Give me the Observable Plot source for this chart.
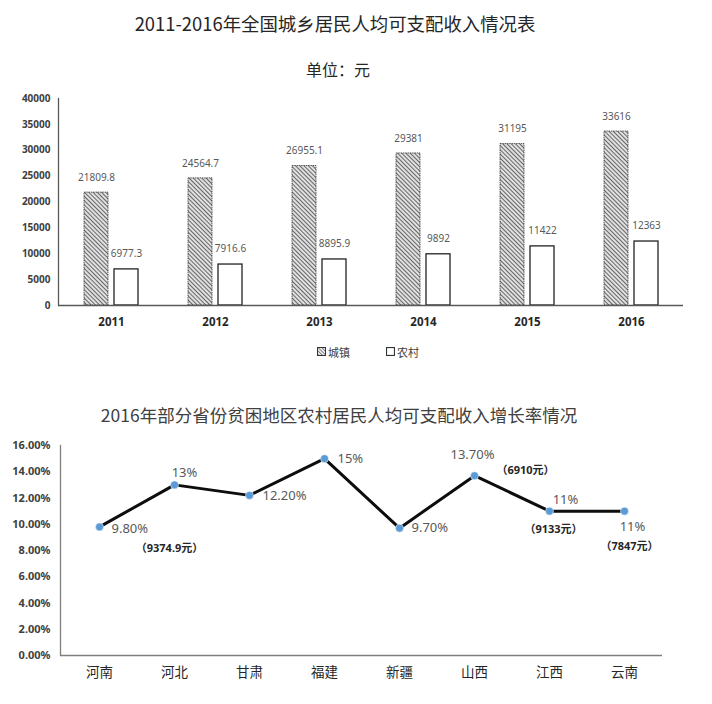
<!DOCTYPE html>
<html><head><meta charset="utf-8">
<script src="https://cdn.jsdelivr.net/npm/d3@7"></script>
<script src="https://cdn.jsdelivr.net/npm/@observablehq/plot@0.6"></script>
<style>
body{margin:0;background:#fff;font-family:"Noto Sans CJK SC","Noto Sans",sans-serif;}
#wrap{position:relative;width:712px;height:704px;overflow:hidden;}
.abs{position:absolute;left:0;width:712px;}
.title{text-align:center;font-size:18px;color:#262626;}
.legend{text-align:center;font-size:11px;color:#404040;}
.legend span{display:inline-flex;align-items:center;margin:0 18px;}
.legend svg{margin-right:2px;}
</style></head>
<body><div id="wrap">
<div class="abs title" style="top:10px;left:-21px;font-size:18.4px;">2011-2016年全国城乡居民人均可支配收入情况表</div>
<div class="abs title" style="top:57px;left:-18px;font-size:16px;">单位：元</div>
<div class="abs" id="c1" style="top:85px;"></div>
<div class="abs legend" id="lg" style="top:343px;left:12px;"></div>
<div class="abs title" style="top:402px;left:-17px;font-size:17.5px;color:#404040;">2016年部分省份贫困地区农村居民人均可支配收入增长率情况</div>
<div class="abs" id="c2" style="top:430px;"></div>
</div>
<script>
// ---- Chart 1 data ----
const years = ["2011","2012","2013","2014","2015","2016"];
const urban = [21809.8, 24564.7, 26955.1, 29381, 31195, 33616];
const rural = [6977.3, 7916.6, 8895.9, 9892, 11422, 12363];
const urbanLabels = ["21809.8","24564.7","26955.1","29381","31195","33616"];
const ruralLabels = ["6977.3","7916.6","8895.9","9892","11422","12363"];
const seriesNames = ["城镇","农村"];
const yTicks1 = [0,5000,10000,15000,20000,25000,30000,35000,40000];

// ---- Chart 2 data ----
const provinces = ["河南","河北","甘肃","福建","新疆","山西","江西","云南"];
const growth = [9.8, 13, 12.2, 15, 9.7, 13.7, 11, 11];
const growthLabels = ["9.80%","13%","12.20%","15%","9.70%","13.70%","11%","11%"];
const incomeNotes = ["（9374.9元）", null, null, null, null, "（6910元）", "（9133元）", "（7847元）"];
const yTicks2 = [0,2,4,6,8,10,12,14,16];

const rows1 = [];
years.forEach((y,i)=>{
  rows1.push({year:y, series:seriesNames[0], value:urban[i], label:urbanLabels[i]});
  rows1.push({year:y, series:seriesNames[1], value:rural[i], label:ruralLabels[i]});
});
const urbanRows = rows1.filter(d=>d.series==="城镇");
const ruralRows = rows1.filter(d=>d.series==="农村");

const chart1 = Plot.plot({
  width:712, height:250,
  marginLeft:58, marginRight:29, marginTop:13, marginBottom:30,
  style:{fontFamily:"'Noto Sans','Noto Sans CJK SC',sans-serif", background:"#fff"},
  x:{type:"band", domain:years, paddingInner:0.77, paddingOuter:0.385, label:null},
  y:{domain:[0,40000], label:null},
  marks:[
    Plot.barY(urbanRows,{x:"year", y:"value", dx:-15, fill:"url(#hatch)", stroke:"#333", strokeWidth:0.8, strokeDasharray:"1.5,0.8"}),
    Plot.barY(ruralRows,{x:"year", y:"value", dx:15, fill:"#fff", stroke:"#222", strokeWidth:1.3}),
    Plot.text(urbanRows,{x:"year", y:"value", text:"label", dx:-15, dy:-15, fill:"#595959", fontSize:10}),
    Plot.text(ruralRows,{x:"year", y:"value", text:"label", dx:15, dy:-16, fill:"#595959", fontSize:10}),
    Plot.frame({anchor:"left", stroke:"#595959", strokeWidth:1.3}),
    Plot.ruleY([0],{stroke:"#595959", strokeWidth:1.3}),
    Plot.axisY({ticks:yTicks1, tickSize:0, tickPadding:8, fontSize:10, fontWeight:"bold", fill:"#404040", tickFormat:d=>String(d)}),
    Plot.axisX({tickSize:0, tickPadding:12, fontSize:11.5, fontWeight:"bold", fill:"#262626"})
  ]
});
// hatch pattern
const ns="http://www.w3.org/2000/svg";
const defs=document.createElementNS(ns,"defs");
defs.innerHTML='<pattern id="hatch" patternUnits="userSpaceOnUse" width="3" height="3" patternTransform="rotate(-45)"><rect width="3" height="3" fill="#e0e0e0"/><line x1="0" y1="0" x2="0" y2="3" stroke="#333" stroke-width="1.4"/></pattern>';
chart1.insertBefore(defs, chart1.firstChild);
document.getElementById("c1").appendChild(chart1);

// legend
document.getElementById("lg").innerHTML =
 '<span><svg width="9" height="9"><defs><pattern id="hatch2" patternUnits="userSpaceOnUse" width="2.5" height="2.5" patternTransform="rotate(-45)"><rect width="2.5" height="2.5" fill="#e8e8e8"/><line x1="0" y1="0" x2="0" y2="2.5" stroke="#333" stroke-width="1"/></pattern></defs><rect x="0.5" y="0.5" width="8" height="8" fill="url(#hatch2)" stroke="#333"/></svg>'+seriesNames[0]+'</span>'+
 '<span><svg width="9" height="9"><rect x="0.5" y="0.5" width="8" height="8" fill="#fff" stroke="#333" stroke-width="1.2"/></svg>'+seriesNames[1]+'</span>';

// ---- Chart 2 ----
const rows2 = provinces.map((p,i)=>({prov:p, rate:growth[i], label:growthLabels[i], note:incomeNotes[i]}));
const pos = {
  "河南":{lab:[12,2,"start"], note:[70,22]},
  "河北":{lab:[10,-12,"middle"]},
  "甘肃":{lab:[13,0,"start"]},
  "福建":{lab:[13,0,"start"]},
  "新疆":{lab:[12,0,"start"]},
  "山西":{lab:[-2,-21,"middle"], note:[51,-5]},
  "江西":{lab:[16,-11,"middle"], note:[4,18]},
  "云南":{lab:[8,16,"middle"], note:[5,35]}
};
const labMarks = rows2.map(d=>Plot.text([d],{x:"prov", y:"rate", text:"label", dx:pos[d.prov].lab[0], dy:pos[d.prov].lab[1], textAnchor:pos[d.prov].lab[2], fill:"#595959", fontSize:13}));
const noteMarks = rows2.filter(d=>d.note).map(d=>Plot.text([d],{x:"prov", y:"rate", text:"note", dx:pos[d.prov].note[0], dy:pos[d.prov].note[1], fill:"#262626", fontSize:11, fontWeight:"bold"}));

const chart2 = Plot.plot({
  width:712, height:255,
  marginLeft:60, marginRight:50, marginTop:15, marginBottom:30,
  style:{fontFamily:"'Noto Sans','Noto Sans CJK SC',sans-serif", background:"#fff"},
  x:{type:"point", domain:provinces, padding:0.5, label:null},
  y:{domain:[0,16], label:null},
  marks:[
    Plot.frame({anchor:"left", stroke:"#7f7f7f", strokeWidth:1.3}),
    Plot.ruleY([0],{stroke:"#7f7f7f", strokeWidth:1.3}),
    Plot.lineY(rows2,{x:"prov", y:"rate", stroke:"#0d0d0d", strokeWidth:3}),
    Plot.dot(rows2,{x:"prov", y:"rate", r:4, fill:"#5B9BD5", stroke:"#fff", strokeWidth:0.5}),
    ...labMarks,
    ...noteMarks,
    Plot.axisY({ticks:yTicks2, tickSize:0, tickPadding:10, fontSize:11, fontWeight:"bold", fill:"#404040", tickFormat:d=>d.toFixed(2)+"%"}),
    Plot.axisX({tickSize:0, tickPadding:12, fontSize:13.5, fill:"#262626", fontFamily:"'Noto Sans CJK SC',sans-serif"})
  ]
});
document.getElementById("c2").appendChild(chart2);
</script>
</body></html>
